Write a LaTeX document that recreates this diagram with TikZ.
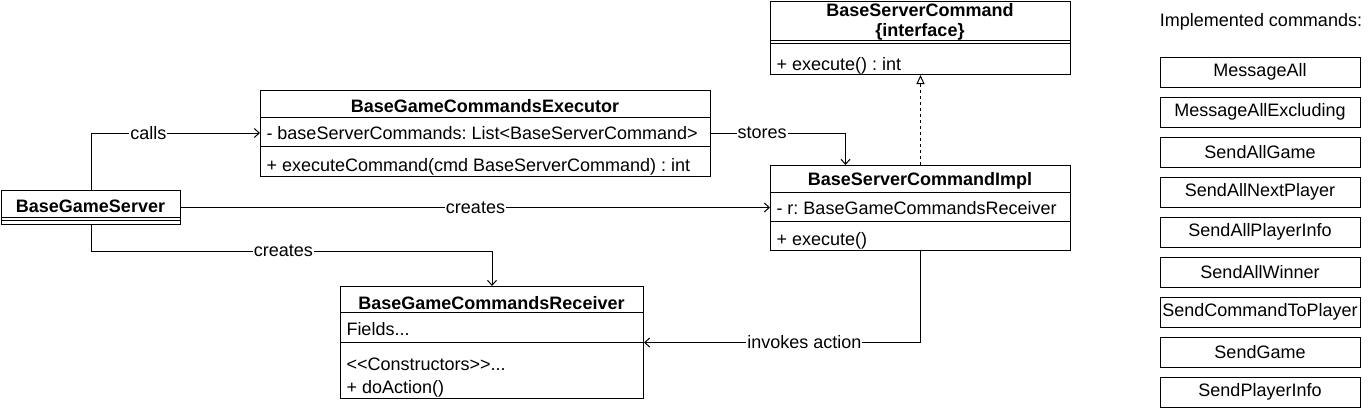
\documentclass[tikz,border=0pt]{standalone}
\usepackage{fontspec}
\setmainfont{Liberation Sans}[Ligatures=TeXOff]
\usetikzlibrary{arrows.meta}
\frenchspacing
\begin{document}
\begin{tikzpicture}[x=1pt,y=-1pt,line width=1pt,
  >={Straight Barb[length=5pt,width=9pt]},
  every node/.style={font=\fontsize{18}{20}\selectfont},
  box/.style={draw,anchor=north west,inner sep=0pt},
  title/.style={font=\fontsize{18}{20}\selectfont\bfseries,align=center,inner sep=0pt},
  member/.style={anchor=west,inner sep=0pt},
  lbl/.style={fill=white,inner sep=1pt},
  cmdbox/.style={draw,minimum width=200pt,minimum height=30pt,inner sep=0pt}]
 \useasboundingbox (0,0) rectangle (1371,408);
 \node[box,minimum width=179pt,minimum height=34pt] (server) at (1,190) {};
 \node[title] (server-t) at (90.5,206) {BaseGameServer};
 \draw (server.west |- 0,217) -- (server.east |- 0,217);
 \draw (server.west |- 0,220) -- (server.east |- 0,220);
 \node[box,minimum width=450pt,minimum height=86pt] (exec) at (260,90) {};
 \node[title] (exec-t) at (485,106) {BaseGameCommandsExecutor};
 \draw (exec.west |- 0,117) -- (exec.east |- 0,117);
 \node[member] (exec-f) at (266,133) {- baseServerCommands: List<BaseServerCommand>};
 \draw (exec.west |- 0,146) -- (exec.east |- 0,146);
 \node[member] (exec-m) at (266,167) {+ executeCommand(cmd BaseServerCommand) : int};
 \node[box,minimum width=300pt,minimum height=73pt] (iface) at (770,1) {};
 \node[title] (iface-t) at (920,22) {BaseServerCommand\\\{interface\}};
 \draw (iface.west |- 0,40) -- (iface.east |- 0,40);
 \draw (iface.west |- 0,43) -- (iface.east |- 0,43);
 \node[member] (iface-m) at (776,66) {+ execute() : int};
 \node[box,minimum width=300pt,minimum height=85pt] (impl) at (770,165) {};
 \node[title] (impl-t) at (920,181) {BaseServerCommandImpl};
 \draw (impl.west |- 0,192) -- (impl.east |- 0,192);
 \node[member] (impl-f) at (776,208) {- r: BaseGameCommandsReceiver};
 \draw (impl.west |- 0,221) -- (impl.east |- 0,221);
 \node[member] (impl-m) at (776,241) {+ execute()};
 \node[box,minimum width=303pt,minimum height=112pt] (recv) at (340,286) {};
 \node[title] (recv-t) at (491.5,303) {BaseGameCommandsReceiver};
 \draw (recv.west |- 0,312) -- (recv.east |- 0,312);
 \node[member] (recv-f) at (346,329) {Fields...};
 \draw (recv.west |- 0,342) -- (recv.east |- 0,342);
 \node[member] (recv-c) at (346,364) {<<Constructors>>...};
 \node[member] (recv-m) at (346,389) {+ doAction()};
 \draw[->] (server.north) |- node[lbl,pos=0.67] {calls} (exec.west |- exec-f.west);
 \draw[->] (server.east) -- node[lbl] {creates} (server.east -| impl.west);
 \draw[->] (server.south) -- ++(0,26) -| node[lbl,pos=0.24] {creates} (recv.north);
 \draw[->] (exec.east |- exec-f.west) -| node[lbl,pos=0.19] {stores} ([xshift=-75pt]impl.north);
 \draw[dash pattern=on 3pt off 3pt,-{Triangle[open,length=9pt,width=8pt]}] (impl.north) -- (iface.south);
 \draw[->] (impl.south) |- node[lbl,pos=0.71] {invokes action} (recv.east);
 \node (impl-list) at (1261,22) {Implemented commands:};
 \foreach \cmd [count=\i from 0] in {MessageAll,MessageAllExcluding,SendAllGame,SendAllNextPlayer,SendAllPlayerInfo,SendAllWinner,SendCommandToPlayer,SendGame,SendPlayerInfo}
  \node[cmdbox] (cmd-\i) at (1260,72+40*\i) {\cmd};
\end{tikzpicture}
\end{document}
